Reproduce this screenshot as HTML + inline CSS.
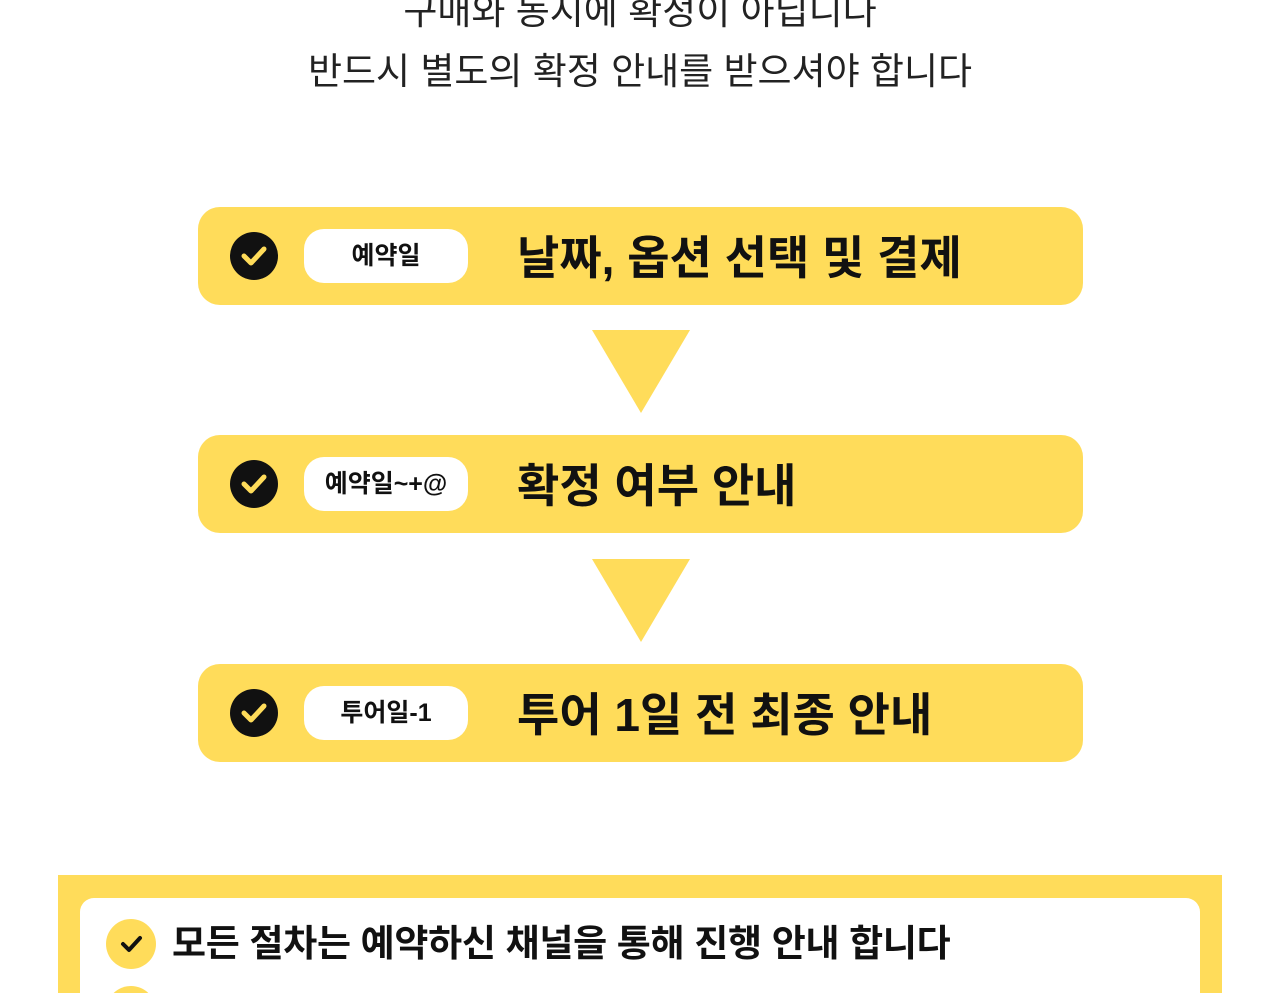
<!DOCTYPE html>
<html><head><meta charset="utf-8"><style>
html{overflow:hidden;height:993px}
body{margin:0;width:1280px;height:993px;overflow:hidden;background:#fff;font-family:"Liberation Sans","Noto Sans CJK KR",sans-serif;position:relative}
.t{position:absolute;left:0;width:1280px;text-align:center;font-size:37px;color:#222;font-weight:400;line-height:40px}
.bar{position:absolute;left:198px;width:885px;height:98px;background:#FFDC5A;border-radius:22px}
.chk{position:absolute;left:32px;top:25px;width:48px;height:48px;border-radius:50%;background:#111}
.chk svg{position:absolute;left:0;top:0}
.pill{position:absolute;left:106px;top:22px;width:164px;height:54px;background:#fff;border-radius:20px;text-align:center;line-height:54px;font-size:25px;font-weight:700;color:#111}
.title{position:absolute;left:319px;top:2px;line-height:98px;font-size:46px;font-weight:700;color:#111;white-space:nowrap}
.tri{position:absolute;width:0;height:0;border-left:49px solid transparent;border-right:49px solid transparent;border-top:83px solid #FFDC5A}
</style></head><body>
<div class="t" style="top:-8px">구매와 동시에 확정이 아닙니다</div>
<div class="t" style="top:52px">반드시 별도의 확정 안내를 받으셔야 합니다</div>

<div class="bar" style="top:207px"><div class="chk"><svg width="48" height="48"><path d="M14 24 L21 31 L34 17" stroke="#FFDC5A" stroke-width="5" fill="none" stroke-linecap="round" stroke-linejoin="round"/></svg></div><div class="pill">예약일</div><div class="title">날짜, 옵션 선택 및 결제</div></div>
<div class="tri" style="left:592px;top:330px"></div>
<div class="bar" style="top:435px"><div class="chk"><svg width="48" height="48"><path d="M14 24 L21 31 L34 17" stroke="#FFDC5A" stroke-width="5" fill="none" stroke-linecap="round" stroke-linejoin="round"/></svg></div><div class="pill">예약일~+@</div><div class="title">확정 여부 안내</div></div>
<div class="tri" style="left:592px;top:559px"></div>
<div class="bar" style="top:664px"><div class="chk"><svg width="48" height="48"><path d="M14 24 L21 31 L34 17" stroke="#FFDC5A" stroke-width="5" fill="none" stroke-linecap="round" stroke-linejoin="round"/></svg></div><div class="pill">투어일-1</div><div class="title">투어 1일 전 최종 안내</div></div>

<div style="position:absolute;left:58px;top:875px;width:1164px;height:118px;background:#FFDC5A"></div>
<div style="position:absolute;left:80px;top:898px;width:1120px;height:95px;background:#fff;border-radius:14px 14px 0 0"></div>
<div style="position:absolute;left:106px;top:919px;width:50px;height:50px;border-radius:50%;background:#FFDC5A"><svg width="50" height="50"><path d="M17 25 L23 31 L34 19" stroke="#111" stroke-width="4" fill="none" stroke-linecap="round" stroke-linejoin="round"/></svg></div>
<div style="position:absolute;left:172px;top:920px;font-size:37px;letter-spacing:-0.3px;font-weight:700;color:#111;line-height:48px;white-space:nowrap">모든 절차는 예약하신 채널을 통해 진행 안내 합니다</div>
<div style="position:absolute;left:106px;top:986px;width:50px;height:7px;overflow:hidden"><div style="width:50px;height:50px;border-radius:50%;background:#FFDC5A"></div></div>
</body></html>
